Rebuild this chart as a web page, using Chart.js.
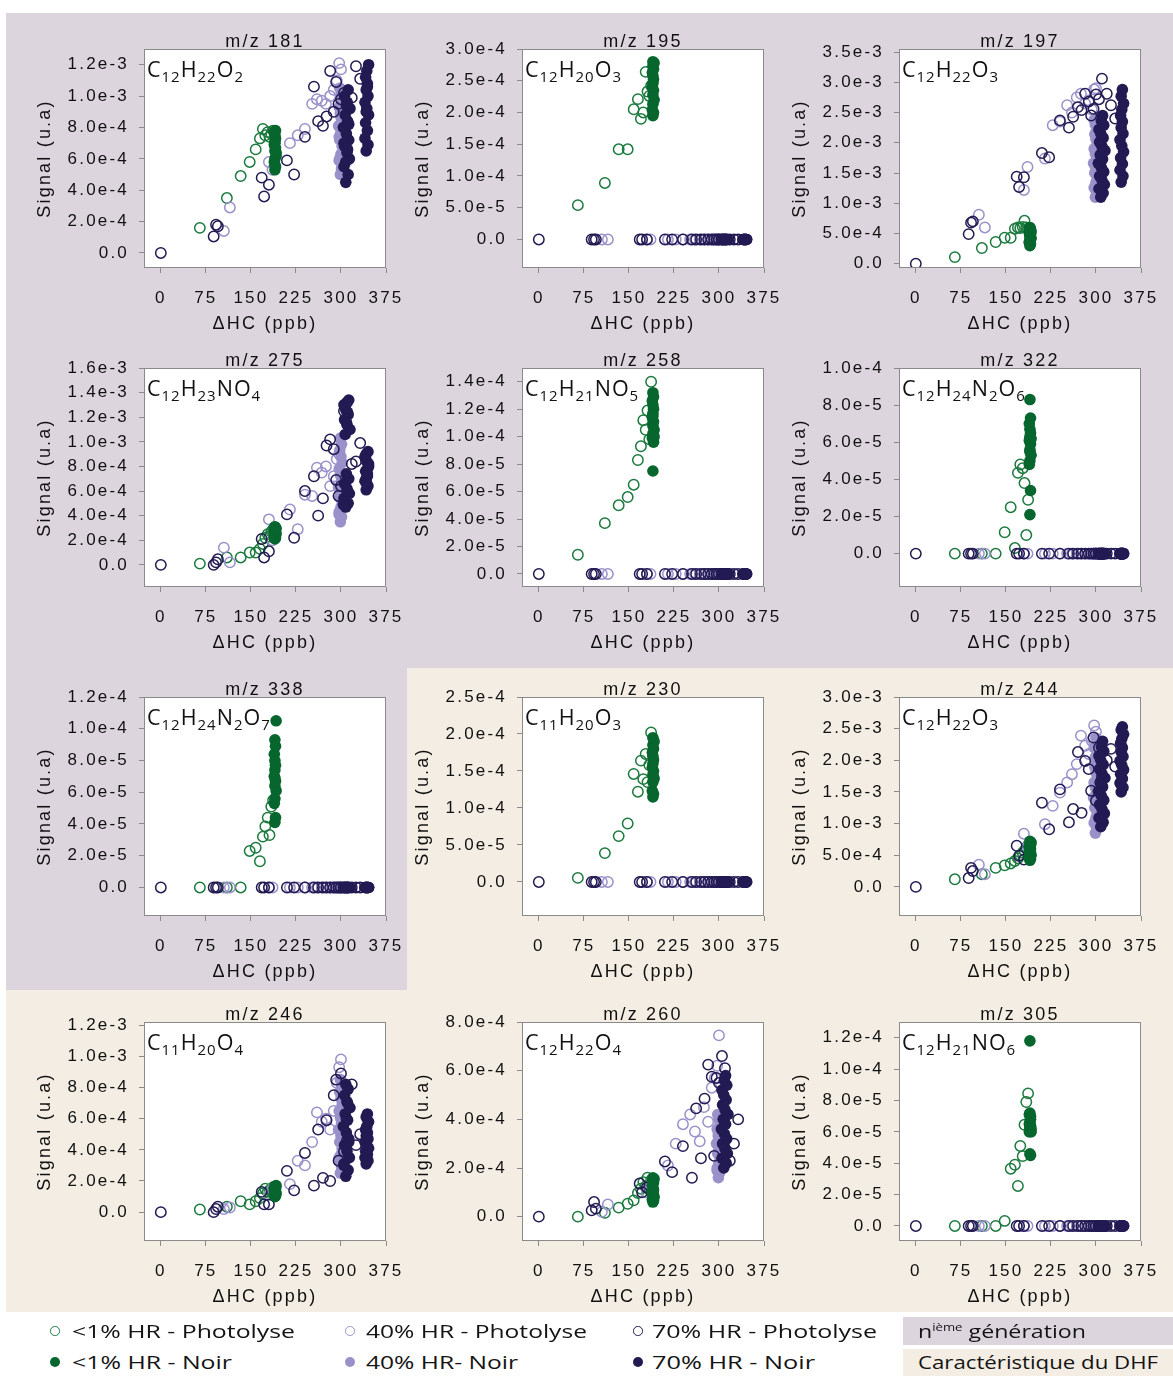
<!DOCTYPE html>
<html>
<head>
<meta charset="utf-8">
<script src="https://cdn.jsdelivr.net/npm/chart.js@4.4.1/dist/chart.umd.min.js"></script>
<style>
  body { margin: 0; width: 1173px; height: 1376px; position: relative; overflow: hidden; background: #fff; }
  .bg { position: absolute; }
  canvas { position: absolute; }
  .mk { position: absolute; border-radius: 50%; box-sizing: border-box; }
  .lt { position: absolute; font-family: "Open Sans", sans-serif; font-size: 17.5px; line-height: 22px; color: #141414;
        white-space: nowrap; transform-origin: 0 50%; }
  .lt sup { font-size: 10.5px; vertical-align: 7px; line-height: 0; }
</style>
</head>
<body>
<div class="bg" style="left:6px;top:13px;width:1167px;height:655px;background:#ddd5de"></div>
<div class="bg" style="left:6px;top:668px;width:401px;height:322px;background:#ddd5de"></div>
<div class="bg" style="left:407px;top:668px;width:766px;height:322px;background:#f3ede3"></div>
<div class="bg" style="left:6px;top:990px;width:1167px;height:322px;background:#f3ede3"></div>
<div class="bg" style="left:903px;top:1317px;width:270px;height:28px;background:#ddd5de"></div>
<div class="bg" style="left:903px;top:1349px;width:270px;height:27px;background:#f3ede3"></div>
<div id="charts"></div>
<div id="legend"></div>
<script>
// ---- shared x positions (ΔHC, ppb) of each experiment type ----
const X_TICKS = [0, 75, 150, 225, 300, 375];
const X_G_PH = [65, 110, 133, 148, 158, 165, 170, 174, 178, 181, 184, 187];
const X_G_DK = [190, 191, 189, 190, 192, 190, 191, 189, 190, 191, 190, 189, 191, 190, 192, 190];
const X_L_PH = [105, 115, 180, 186, 215, 228, 240, 252, 260, 268, 275, 282, 288, 293, 297, 300];
const X_L_DK = [299, 301, 297, 300, 302, 298, 300, 296, 301, 299, 297, 302, 300, 298, 301, 299, 297, 300];
const X_N_PH = [0, 88, 92, 95, 168, 172, 180, 210, 222, 240, 255, 262, 270, 276, 282, 288, 292, 296, 300, 305, 310, 318, 325, 332];
const X_N_DK = [308, 312, 305, 314, 310, 306, 313, 309, 304, 311, 307, 315, 310, 306, 312, 308, 305, 313, 309, 311,
                342, 345, 340, 344, 341, 346, 343, 340, 345, 342, 344, 341, 343, 346, 342, 344];

// zero series (species not seen for these conditions)
const Z_LP = [0, 0, 0, 0, 0, 0, 0, 0, 0, 0, 0, 0, 0, 0, 0, 0];
const Z_LD = [0, 0, 0, 0, 0, 0, 0, 0, 0, 0, 0, 0, 0, 0, 0, 0, 0, 0];
const Z_NP = [0, 0, 0, 0, 0, 0, 0, 0, 0, 0, 0, 0, 0, 0, 0, 0, 0, 0, 0, 0, 0, 0, 0, 0];
const Z_ND = [0, 0, 0, 0, 0, 0, 0, 0, 0, 0, 0, 0, 0, 0, 0, 0, 0, 0, 0, 0,
              0, 0, 0, 0, 0, 0, 0, 0, 0, 0, 0, 0, 0, 0, 0, 0];

// ---- y tick values (in panel units) ----
const T8 = [0, 2, 4, 6, 8];
const T10 = [0, 2, 4, 6, 8, 10];
const T12 = [0, 2, 4, 6, 8, 10, 12];
const T14 = [0, 2, 4, 6, 8, 10, 12, 14];
const T16 = [0, 2, 4, 6, 8, 10, 12, 14, 16];
const T25 = [0, 5, 10, 15, 20, 25];
const T30 = [0, 5, 10, 15, 20, 25, 30];
const T35 = [0, 5, 10, 15, 20, 25, 30, 35];

// ---- m/z 181 (x1e-4) ----
const Y181_GP = [1.6, 3.5, 4.9, 5.8, 6.6, 7.3, 7.9, 7.5, 7.7, 7.4, 7.6, 7.8];
const Y181_GD = [5.3, 5.5, 5.8, 6.0, 6.2, 6.5, 6.7, 6.9, 7.1, 7.3, 7.5, 7.7, 7.8, 5.6, 6.4, 7.0];
const Y181_LP = [1.4, 2.9, 5.8, 5.3, 7.0, 7.5, 7.9, 9.5, 9.8, 9.7, 9.5, 10.0, 10.4, 11.0, 12.1, 11.7];
const Y181_LD = [5.0, 5.4, 5.9, 6.3, 6.8, 7.2, 7.7, 8.1, 8.5, 8.9, 9.3, 9.7, 10.1, 10.5, 5.2, 6.1, 7.4, 8.7];
const Y181_NP = [0, 1.05, 1.8, 1.7, 4.8, 3.6, 4.35, 5.9, 5.0, 7.4, 10.6, 8.4, 8.1, 8.7, 11.6, 9.0, 10.9, 9.5, 9.8, 10.2, 9.6, 9.9, 11.9, 11.1];
const Y181_ND = [4.5, 5.0, 5.5, 6.0, 6.4, 6.8, 7.2, 7.6, 8.0, 8.4, 8.8, 9.2, 9.6, 10.0, 10.4, 5.8, 7.0, 8.2, 9.4, 6.6,
                 6.5, 6.9, 7.3, 7.8, 8.3, 8.8, 9.2, 9.6, 10.0, 10.4, 10.8, 11.2, 11.6, 12.0, 9.0, 10.6];

// ---- m/z 195 (x1e-5) ----
const Y195_GP = [5.4, 8.9, 14.2, 14.2, 20.5, 22.1, 19.0, 20.0, 26.4, 23.3, 22.6, 24.2];
const Y195_GD = [19.5, 20.0, 20.4, 21.3, 22.0, 22.8, 23.5, 24.0, 24.6, 25.2, 25.8, 26.3, 26.8, 27.3, 27.8, 28.0];

// ---- m/z 197 (x1e-4) ----
const Y197_GP = [1.1, 2.6, 3.6, 4.3, 4.3, 5.8, 6.0, 5.9, 6.1, 7.1, 6.0, 5.7];
const Y197_GD = [3.0, 3.3, 3.6, 3.9, 4.2, 4.5, 4.8, 5.1, 5.4, 5.7, 6.0, 3.5, 4.0, 4.7, 5.3, 5.9];
const Y197_LP = [8.1, 6.0, 12.2, 16.0, 17.4, 22.9, 23.5, 26.2, 25.0, 27.5, 28.1, 26.5, 27.0, 25.5, 28.8, 29.0];
const Y197_LD = [11.0, 11.8, 12.6, 13.4, 14.2, 15.0, 15.8, 16.6, 17.4, 18.2, 19.0, 19.8, 20.6, 21.4, 22.2, 23.0, 23.8, 12.2];
const Y197_NP = [0, 4.9, 6.8, 7.0, 14.4, 12.7, 14.3, 18.3, 17.6, 23.7, 22.5, 24.3, 25.9, 25.4, 28.1, 26.8, 24.5, 25.6, 28.0, 27.2, 30.6, 28.1, 26.2, 24.0];
const Y197_ND = [11.0, 11.7, 12.4, 13.1, 13.8, 14.5, 15.2, 15.9, 16.6, 17.3, 18.0, 18.7, 19.4, 20.1, 20.8, 21.5, 22.2, 22.9, 23.6, 24.5,
                 13.5, 14.5, 15.5, 16.5, 17.5, 18.5, 19.5, 20.5, 21.5, 22.5, 23.5, 24.5, 25.5, 26.5, 27.7, 28.8];

// ---- m/z 275 (x1e-4) ----
const Y275_GP = [0.1, 0.6, 0.6, 1.0, 1.0, 1.3, 1.7, 2.2, 2.5, 2.3, 2.7, 2.9];
const Y275_GD = [2.1, 2.2, 2.3, 2.4, 2.5, 2.6, 2.7, 2.8, 2.9, 3.0, 3.1, 2.25, 2.55, 2.75, 2.95, 3.05];
const Y275_LP = [1.4, 0.2, 3.7, 2.0, 4.5, 2.9, 5.7, 5.6, 7.9, 7.5, 8.0, 6.4, 7.2, 8.6, 9.0, 6.0];
const Y275_LD = [3.5, 3.9, 4.3, 4.7, 5.1, 5.5, 5.9, 6.3, 6.8, 7.3, 7.8, 8.3, 8.8, 9.3, 9.8, 10.3, 4.1, 6.0];
const Y275_NP = [0, 0, 0.2, 0.45, 2.1, 0.6, 1.1, 4.1, 2.2, 6.0, 7.2, 4.0, 5.4, 9.7, 10.2, 9.4, 6.9, 5.6, 6.4, 12.5, 13.2, 8.2, 8.4, 9.9];
const Y275_ND = [4.7, 5.0, 5.4, 5.8, 6.2, 6.6, 7.0, 7.4, 4.9, 6.0, 10.6, 11.0, 11.4, 11.8, 12.2, 12.6, 13.0, 13.4, 11.6, 12.4,
                 6.1, 6.4, 6.8, 7.2, 7.6, 8.0, 8.4, 8.8, 9.2, 7.0, 7.8, 8.6, 6.6, 8.2, 9.0, 7.4];

// ---- m/z 258 (x1e-5) ----
const Y258_GP = [1.4, 3.7, 5.0, 5.6, 6.5, 8.3, 9.3, 11.2, 10.5, 11.9, 9.8, 14.0];
const Y258_GD = [7.5, 9.6, 9.9, 10.2, 10.5, 10.8, 11.1, 11.4, 11.7, 12.0, 12.3, 12.6, 12.9, 13.2, 10.0, 11.5];

// ---- m/z 322 (x1e-5) ----
const Y322_GP = [0, 0, 0, 1.15, 2.5, 0.3, 4.35, 4.8, 4.6, 3.8, 1.0, 2.9];
const Y322_GD = [2.1, 3.4, 4.8, 5.0, 5.3, 5.6, 5.9, 6.1, 6.3, 6.5, 6.7, 7.0, 7.3, 5.5, 6.2, 8.3];

// ---- m/z 338 (x1e-5) ----
const Y338_GP = [0, 0, 0, 2.3, 2.5, 1.65, 3.2, 3.85, 4.4, 3.3, 5.1, 5.5];
const Y338_GD = [4.1, 4.4, 5.3, 5.6, 6.1, 6.4, 6.7, 7.0, 7.4, 7.7, 8.0, 8.4, 8.9, 9.3, 10.5, 6.9];

// ---- m/z 230 (x1e-5) ----
const Y230_GP = [0.55, 3.9, 6.2, 7.9, 14.6, 12.2, 16.4, 13.9, 17.3, 13.5, 15.8, 20.2];
const Y230_GD = [11.5, 11.9, 12.3, 13.5, 14.0, 14.5, 15.0, 15.5, 16.0, 16.5, 17.0, 17.5, 18.0, 18.5, 19.0, 19.5];

// ---- m/z 244 (x1e-4) ----
const Y244_GP = [1.2, 2.0, 3.0, 3.4, 3.7, 4.1, 4.5, 5.0, 5.4, 5.7, 6.2, 6.6];
const Y244_GD = [4.2, 4.4, 4.6, 4.8, 5.0, 5.2, 5.4, 5.6, 5.8, 6.0, 6.2, 6.4, 6.6, 6.8, 7.0, 7.2];
const Y244_LP = [3.5, 2.0, 8.4, 6.3, 9.9, 12.8, 14.9, 16.5, 17.8, 19.4, 23.9, 22.3, 21.0, 23.1, 25.5, 24.5];
const Y244_LD = [8.5, 9.3, 10.1, 10.9, 11.7, 12.5, 13.3, 14.1, 14.9, 15.7, 16.5, 17.3, 18.1, 18.9, 19.7, 20.5, 22.0, 23.5];
const Y244_NP = [0, 1.4, 3.0, 2.5, 6.5, 4.9, 4.3, 13.3, 9.1, 15.4, 10.2, 12.3, 21.3, 11.7, 19.9, 18.6, 15.2, 23.6, 13.6, 22.0, 17.3, 20.0, 21.8, 19.0];
const Y244_ND = [9.5, 10.2, 10.9, 11.6, 12.3, 13.0, 13.7, 14.4, 15.1, 15.8, 16.5, 17.2, 17.9, 18.6, 19.3, 20.0, 20.7, 21.4, 22.1, 23.0,
                 15.0, 15.7, 16.4, 17.1, 17.8, 18.5, 19.2, 19.9, 20.6, 21.3, 22.0, 22.7, 23.4, 24.1, 24.8, 25.3];

// ---- m/z 246 (x1e-4) ----
const Y246_GP = [0.17, 0.35, 0.7, 0.5, 0.7, 0.9, 1.2, 1.5, 1.3, 1.4, 1.5, 1.6];
const Y246_GD = [1.0, 1.05, 1.1, 1.15, 1.2, 1.25, 1.3, 1.35, 1.4, 1.45, 1.5, 1.55, 1.6, 1.65, 1.7, 1.3];
const Y246_LP = [0.2, 0.3, 1.1, 1.5, 1.8, 3.3, 3.0, 4.5, 6.4, 5.8, 6.0, 5.3, 6.5, 8.3, 9.3, 9.8];
const Y246_LD = [2.5, 2.9, 3.3, 3.7, 4.1, 4.5, 4.9, 5.3, 5.7, 6.1, 6.5, 6.9, 7.3, 7.7, 8.1, 8.5, 3.5, 6.0];
const Y246_NP = [0, 0, 0.2, 0.35, 1.3, 0.5, 0.5, 2.65, 1.4, 3.8, 1.7, 5.3, 2.2, 5.9, 2.0, 7.5, 8.5, 3.3, 8.9, 3.9, 4.6, 8.2, 4.3, 5.0];
const Y246_ND = [2.3, 2.7, 3.1, 3.5, 3.9, 4.3, 4.7, 5.1, 5.5, 5.9, 6.3, 6.7, 7.1, 7.5, 7.9, 8.2, 3.0, 4.5, 6.0, 7.0,
                 3.1, 3.3, 3.5, 3.7, 3.9, 4.1, 4.3, 4.5, 4.7, 4.9, 5.1, 5.3, 5.5, 5.8, 6.1, 6.3];

// ---- m/z 260 (x1e-4) ----
const Y260_GP = [0, 0.16, 0.37, 0.53, 0.67, 0.97, 1.15, 1.42, 1.25, 1.6, 1.1, 1.5];
const Y260_GD = [0.6, 0.65, 0.7, 0.75, 0.8, 0.85, 0.9, 1.0, 1.05, 1.1, 1.2, 1.3, 1.4, 1.5, 1.55, 1.6];
const Y260_LP = [0.2, 0.5, 1.0, 1.2, 2.1, 3.0, 3.8, 4.2, 3.5, 3.1, 4.5, 3.9, 5.3, 5.7, 6.2, 7.45];
const Y260_LD = [1.6, 1.8, 2.0, 2.2, 2.4, 2.6, 2.8, 3.0, 3.2, 3.4, 3.6, 3.8, 4.0, 4.2, 2.5, 3.3, 1.9, 2.9];
const Y260_NP = [0, 0.26, 0.6, 0.33, 1.36, 1.0, 1.2, 2.27, 1.83, 2.9, 1.6, 4.45, 2.4, 4.85, 6.25, 5.75, 2.5, 5.7, 5.5, 6.6, 6.1, 2.3, 3.0, 4.0];
const Y260_ND = [2.0, 2.2, 2.4, 2.6, 2.8, 3.0, 3.2, 3.4, 3.6, 3.8, 4.0, 4.2, 4.4, 4.6, 4.8, 5.0, 5.2, 5.4, 5.6, 5.8,
                 null, null, null, null, null, null, null, null, null, null, null, null, null, null, null, null];

// ---- m/z 305 (x1e-5) ----
const Y305_GP = [0, 0, 0, 0.32, 3.65, 3.9, 2.55, 5.1, 4.45, 6.45, 7.9, 8.45];
const Y305_GD = [4.6, 4.5, 6.0, 6.1, 6.2, 6.3, 6.4, 6.5, 6.6, 7.0, 7.2, 7.1, 6.8, 6.3, 6.0, 11.8];

// ---- panel table ----
const PANELS = [
  { title: 'm/z 181', formula: 'C12H22O2', col: 0, row: 0, unit: 1e-4, min: -0.96, max: 13, ticks: T12, y: [Y181_GP, Y181_GD, Y181_LP, Y181_LD, Y181_NP, Y181_ND] },
  { title: 'm/z 195', formula: 'C12H20O3', col: 1, row: 0, unit: 1e-5, min: -4.5, max: 30, ticks: T30, y: [Y195_GP, Y195_GD, Z_LP, Z_LD, Z_NP, Z_ND] },
  { title: 'm/z 197', formula: 'C12H22O3', col: 2, row: 0, unit: 1e-4, min: -0.7, max: 35.5, ticks: T35, y: [Y197_GP, Y197_GD, Y197_LP, Y197_LD, Y197_NP, Y197_ND] },
  { title: 'm/z 275', formula: 'C12H23NO4', col: 0, row: 1, unit: 1e-4, min: -1.8, max: 16, ticks: T16, y: [Y275_GP, Y275_GD, Y275_LP, Y275_LD, Y275_NP, Y275_ND] },
  { title: 'm/z 258', formula: 'C12H21NO5', col: 1, row: 1, unit: 1e-5, min: -0.95, max: 15, ticks: T14, y: [Y258_GP, Y258_GD, Z_LP, Z_LD, Z_NP, Z_ND] },
  { title: 'm/z 322', formula: 'C12H24N2O6', col: 2, row: 1, unit: 1e-5, min: -1.8, max: 10, ticks: T10, y: [Y322_GP, Y322_GD, Z_LP, Z_LD, Z_NP, Z_ND] },
  { title: 'm/z 338', formula: 'C12H24N2O7', col: 0, row: 2, unit: 1e-5, min: -1.8, max: 12, ticks: T12, y: [Y338_GP, Y338_GD, Z_LP, Z_LD, Z_NP, Z_ND] },
  { title: 'm/z 230', formula: 'C11H20O3', col: 1, row: 2, unit: 1e-5, min: -4.6, max: 25, ticks: T25, y: [Y230_GP, Y230_GD, Z_LP, Z_LD, Z_NP, Z_ND] },
  { title: 'm/z 244', formula: 'C12H22O3', col: 2, row: 2, unit: 1e-4, min: -4.6, max: 30, ticks: T30, y: [Y244_GP, Y244_GD, Y244_LP, Y244_LD, Y244_NP, Y244_ND] },
  { title: 'm/z 246', formula: 'C11H20O4', col: 0, row: 3, unit: 1e-4, min: -1.85, max: 12.2, ticks: T12, y: [Y246_GP, Y246_GD, Y246_LP, Y246_LD, Y246_NP, Y246_ND] },
  { title: 'm/z 260', formula: 'C12H22O4', col: 1, row: 3, unit: 1e-4, min: -1.0, max: 8, ticks: T8, y: [Y260_GP, Y260_GD, Y260_LP, Y260_LD, Y260_NP, Y260_ND] },
  { title: 'm/z 305', formula: 'C12H21NO6', col: 2, row: 3, unit: 1e-5, min: -0.96, max: 13, ticks: T12, y: [Y305_GP, Y305_GD, Z_LP, Z_LD, Z_NP, Z_ND] },
];

const GREEN_OPEN = '#1b7a3e';
const GREEN_FILL = '#06662d';
const LAVENDER = '#9a91cb';
const NAVY = '#221a52';
const AXIS = '#8a8a8a';
const FONT = '"Liberation Sans", Arial, sans-serif';
const LS = '2.2px';

// series: x array, colour, filled, draw order (0 = top)
const SERIES = [
  { x: X_G_PH, color: GREEN_OPEN, filled: false, order: 5 },
  { x: X_G_DK, color: GREEN_FILL, filled: true, order: 1 },
  { x: X_L_PH, color: LAVENDER, filled: false, order: 4 },
  { x: X_L_DK, color: LAVENDER, filled: true, order: 3 },
  { x: X_N_PH, color: NAVY, filled: false, order: 2 },
  { x: X_N_DK, color: NAVY, filled: true, order: 0 },
];

const COLS = [144, 522, 899];
const ROWS = [49, 368, 697, 1022];
const PW = 242, PH = 219;
const PAD_TOP = 45, YW = 144, XH = 80, PAD_R = 30;

function drawFormula(ctx, text, x, y) {
  const parts = text.match(/[A-Za-z]+|\d+/g);
  ctx.save();
  ctx.fillStyle = '#111';
  ctx.textAlign = 'left';
  ctx.textBaseline = 'alphabetic';
  ctx.letterSpacing = '1px';
  for (const p of parts) {
    const sub = /\d/.test(p);
    ctx.font = (sub ? '15px' : '21.5px') + ' "Open Sans", sans-serif';
    ctx.fillText(p, x, sub ? y + 4.5 : y);
    x += ctx.measureText(p).width;
  }
  ctx.restore();
}

function panelPlugin(p) {
  return {
    id: 'panel',
    beforeLayout(c) { c.ctx.letterSpacing = LS; },
    beforeDraw(c) {
      const { ctx, chartArea: a } = c;
      ctx.letterSpacing = LS;
      ctx.save();
      ctx.fillStyle = '#fff';
      ctx.fillRect(a.left, a.top, a.right - a.left, a.bottom - a.top);
      ctx.restore();
    },
    beforeDatasetsDraw(c) {
      drawFormula(c.ctx, p.formula, c.chartArea.left + 3, c.chartArea.top + 28);
    },
    afterDraw(c) {
      const { ctx, chartArea: a } = c;
      ctx.save();
      ctx.strokeStyle = AXIS;
      ctx.lineWidth = 1;
      ctx.strokeRect(Math.round(a.left) + 0.5, Math.round(a.top) + 0.5, Math.round(a.right - a.left) - 1, Math.round(a.bottom - a.top) - 1);
      ctx.fillStyle = '#111';
      ctx.font = '18px ' + FONT;
      ctx.letterSpacing = LS;
      ctx.textAlign = 'center';
      ctx.textBaseline = 'alphabetic';
      ctx.fillText(p.title, (a.left + a.right) / 2, a.top - 2);
      ctx.restore();
    },
  };
}

const holder = document.getElementById('charts');
PANELS.forEach((p) => {
  const canvas = document.createElement('canvas');
  const w = YW + PW + PAD_R, h = PAD_TOP + PH + XH;
  canvas.width = w;
  canvas.height = h;
  canvas.style.width = w + 'px';
  canvas.style.height = h + 'px';
  canvas.style.left = (COLS[p.col] - YW) + 'px';
  canvas.style.top = (ROWS[p.row] - PAD_TOP) + 'px';
  holder.appendChild(canvas);

  const datasets = SERIES.map((s, i) => ({
    data: s.x.map((x, k) => ({ x, y: p.y[i][k] })),
    order: s.order,
    showLine: false,
    pointRadius: s.filled ? 5.8 : 5.2,
    pointBorderWidth: s.filled ? 0 : 1.5,
    pointBorderColor: s.color,
    pointBackgroundColor: s.filled ? s.color : 'rgba(0,0,0,0)',
    pointHoverRadius: 0,
  }));

  const grid = { drawOnChartArea: false, drawTicks: true, tickLength: 5, color: AXIS, lineWidth: 1 };
  new Chart(canvas.getContext('2d'), {
    type: 'scatter',
    data: { datasets },
    options: {
      responsive: false,
      animation: false,
      devicePixelRatio: 1,
      events: [],
      layout: { padding: { top: PAD_TOP, right: PAD_R, left: 0, bottom: 0 } },
      plugins: { legend: { display: false }, tooltip: { enabled: false } },
      scales: {
        x: {
          type: 'linear', min: -28, max: 375,
          afterBuildTicks: (s) => { s.ticks = X_TICKS.map((v) => ({ value: v })); },
          afterFit: (s) => { s.height = XH; s.paddingLeft = 0; s.paddingRight = 0; },
          grid, border: { display: false },
          ticks: { color: '#111', font: { family: FONT, size: 17 }, padding: 15, maxRotation: 0, minRotation: 0, autoSkip: false,
                   callback: (v) => String(v) },
          title: { display: true, text: 'ΔHC (ppb)', color: '#111', font: { family: FONT, size: 18 }, padding: { top: 0, bottom: 13 } },
        },
        y: {
          type: 'linear', min: p.min, max: p.max,
          afterBuildTicks: (s) => { s.ticks = p.ticks.map((v) => ({ value: v })); },
          afterFit: (s) => { s.width = YW; s.paddingTop = 0; s.paddingBottom = 0; },
          grid, border: { display: false },
          ticks: { color: '#111', font: { family: FONT, size: 17 }, padding: 10, autoSkip: false,
                   callback: (v) => (v === 0 ? '0.0' : (v * p.unit).toExponential(1)) },
          title: { display: true, text: 'Signal (u.a)', color: '#111', font: { family: FONT, size: 18 }, padding: { top: 34, bottom: 0 } },
        },
      },
    },
    plugins: [panelPlugin(p)],
  });
});

// ---- legend ----
const LEGEND = [
  { label: '&lt;1% HR - Photolyse', color: GREEN_OPEN, filled: false, mx: 55, tx: 72, cy: 1331, w: 223 },
  { label: '40% HR - Photolyse', color: LAVENDER, filled: false, mx: 350, tx: 366, cy: 1331, w: 221 },
  { label: '70% HR - Photolyse', color: NAVY, filled: false, mx: 638, tx: 652, cy: 1331, w: 225 },
  { label: '&lt;1% HR - Noir', color: GREEN_FILL, filled: true, mx: 55, tx: 72, cy: 1362, w: 160 },
  { label: '40% HR- Noir', color: LAVENDER, filled: true, mx: 350, tx: 366, cy: 1362, w: 152 },
  { label: '70% HR - Noir', color: NAVY, filled: true, mx: 638, tx: 652, cy: 1362, w: 163 },
];
const BOX_TEXT = [
  { label: 'n<sup>ième</sup> génération', tx: 918, cy: 1331, w: 168, size: 18.5 },
  { label: 'Caractéristique du DHF', tx: 918, cy: 1362, w: 240, size: 18.5 },
];
const leg = document.getElementById('legend');
function addText(t, size) {
  const d = document.createElement('div');
  d.className = 'lt';
  d.innerHTML = t.label;
  if (size) d.style.fontSize = size + 'px';
  d.style.left = t.tx + 'px';
  d.style.top = (t.cy - 11) + 'px';
  leg.appendChild(d);
  const nat = d.getBoundingClientRect().width;
  d.style.transform = 'scaleX(' + (t.w / nat).toFixed(3) + ')';
}
LEGEND.forEach((it) => {
  const m = document.createElement('div');
  m.className = 'mk';
  const d = it.filled ? 10 : 9.5;
  m.style.width = d + 'px';
  m.style.height = d + 'px';
  m.style.left = (it.mx - d / 2) + 'px';
  m.style.top = (it.cy - d / 2) + 'px';
  if (it.filled) m.style.background = it.color;
  else m.style.border = '1.4px solid ' + it.color;
  leg.appendChild(m);
  addText(it);
});
BOX_TEXT.forEach((t) => addText(t, t.size));
</script>
</body>
</html>
